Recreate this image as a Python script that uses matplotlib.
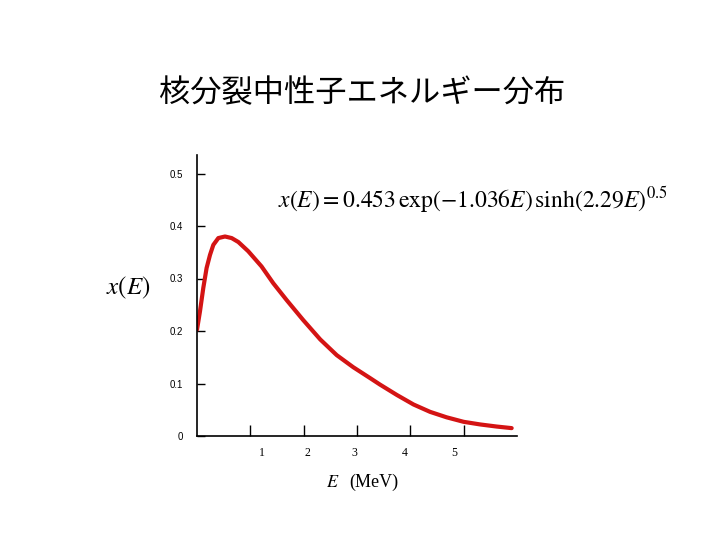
import matplotlib
matplotlib.use("Agg")
import matplotlib.pyplot as plt

title = "核分裂中性子エネルギー分布"
energy = [0.0, 0.056, 0.118, 0.18, 0.244, 0.306, 0.40, 0.525, 0.65, 0.775, 0.96, 1.21, 1.43,
          1.68, 1.99, 2.31, 2.62, 2.93, 3.25, 3.43, 3.75, 4.06, 4.37, 4.68, 5.0, 5.31, 5.62, 5.90]
flux = [0.2025, 0.2375, 0.282, 0.320, 0.345, 0.364, 0.377, 0.380, 0.377, 0.3695, 0.352, 0.323, 0.291,
        0.259, 0.221, 0.184, 0.154, 0.131, 0.110, 0.098, 0.078, 0.060, 0.046, 0.0356, 0.027, 0.022,
        0.018, 0.0150]
yticks = [0, 0.1, 0.2, 0.3, 0.4, 0.5]
ytick_labels = ["0", "0.1", "0.2", "0.3", "0.4", "0.5"]
xticks = [1, 2, 3, 4, 5]
xtick_labels = ["1", "2", "3", "4", "5"]
xlabel_pos = [1.21, 2.08, 2.96, 3.9, 4.82]

plt.rcParams['mathtext.fontset'] = 'stix'

fig = plt.figure(figsize=(7.2, 5.4), dpi=100)
ax = fig.add_axes([197/720, 1 - 436/540, 320/720, 281/540])
ax.plot(energy, flux, color='#d41414', lw=3.0, solid_capstyle='round', solid_joinstyle='round')
ax.set_xlim(0, 6)
ax.set_ylim(0, 281/525)
for s in ['top', 'right']:
    ax.spines[s].set_visible(False)
for s in ['left', 'bottom']:
    ax.spines[s].set_linewidth(1.2)
ax.set_yticks(yticks)
ax.set_yticklabels(ytick_labels, fontsize=7, family='Liberation Sans')
ax.tick_params(axis='y', direction='in', length=6, width=1.0, pad=10)
ax.set_xticks(xticks)
ax.set_xticklabels([])
ax.tick_params(axis='x', direction='in', length=8, width=1.0)
for p, lab in zip(xlabel_pos, xtick_labels):
    ax.text(p, -17/525, lab, ha='center', va='center', fontsize=8.5, family='Liberation Serif')

ax.text(2.55, -46/525, r"$E$", ha='center', va='center', fontsize=13)
ax.text(3.32, -46/525, "(MeV)", ha='center', va='center', fontsize=13, family='Liberation Serif')

fig.text(128/720, 1 - 288/540, r"$x(E)$", ha='center', va='center', fontsize=18)
fig.text(473/720, 1 - 200/540,
         r"$x(E) = 0.453\,\mathrm{exp}(-1.036E)\,\mathrm{sinh}(2.29E)^{0.5}$",
         ha='center', va='center', fontsize=17)
fig.text(362/720, 1 - 93/540, title, ha='center', va='center', fontsize=22.5,
         family=['Noto Sans CJK JP', 'DejaVu Sans'])

fig.savefig("out.png", dpi=100)
